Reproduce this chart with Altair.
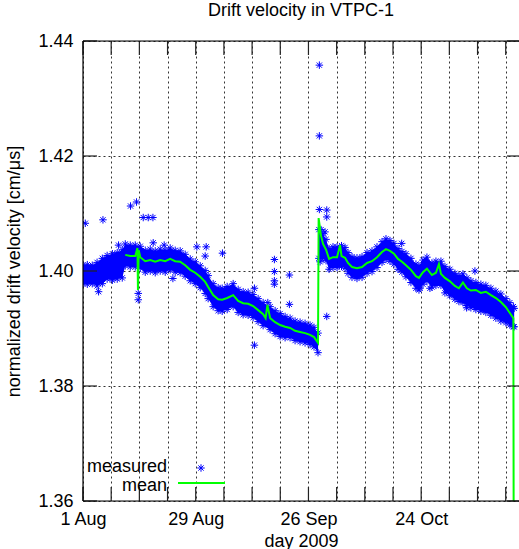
import altair as alt
import pandas as pd

# ---------------- data ----------------
# days counted from 1 Aug 2009
band_day = [0.00, 1.07, 2.30, 3.50, 4.80, 6.00, 7.30, 8.50, 9.75, 10.50, 11.74, 12.98, 14.22,
            15.46, 16.70, 17.94, 19.18, 20.42, 21.66, 22.90, 24.14, 25.38, 26.63, 27.87, 29.11,
            30.35, 31.09, 32.33, 33.57, 34.57, 35.81, 37.30, 38.54, 39.78, 41.02, 42.26, 43.50,
            44.74, 46.48, 47.72, 48.96, 50.20, 51.44, 52.68, 53.92, 55.16, 56.40, 57.39, 58.38,
            58.60, 59.13, 59.63, 60.37, 61.12, 62.10, 63.10, 64.22, 65.09, 65.83, 66.82, 68.06,
            69.31, 70.55, 71.79, 73.03, 74.27, 75.26, 76.25, 77.25, 78.24, 79.23, 80.22, 81.46,
            82.70, 83.45, 84.44, 85.43, 86.67, 87.67, 88.91, 89.90, 91.14, 92.38, 93.37, 94.37,
            95.36, 96.35, 97.59, 98.83, 100.07, 101.32, 102.56, 103.80, 105.04, 106.03, 106.90, 107.10]
band_hi = [1.4010, 1.4011, 1.4010, 1.4015, 1.4022, 1.4027, 1.4030, 1.4032, 1.4037, 1.4047, 1.4045, 1.4045, 1.4043,
           1.4036, 1.4038, 1.4035, 1.4038, 1.4036, 1.4040, 1.4036, 1.4035, 1.4029, 1.4021, 1.4016, 1.4009,
           1.4001, 1.3992, 1.3978, 1.3971, 1.3970, 1.3973, 1.3978, 1.3968, 1.3964, 1.3963, 1.3959, 1.3952,
           1.3945, 1.3938, 1.3931, 1.3926, 1.3921, 1.3918, 1.3913, 1.3911, 1.3909, 1.3906, 1.3902, 1.3892,
           1.4072, 1.4072, 1.4065, 1.4055, 1.4039, 1.4042, 1.4042, 1.4044, 1.4041, 1.4032, 1.4025, 1.4023,
           1.4025, 1.4032, 1.4035, 1.4042, 1.4051, 1.4056, 1.4053, 1.4048, 1.4039, 1.4034, 1.4030, 1.4022,
           1.4012, 1.4009, 1.4019, 1.4024, 1.4014, 1.4017, 1.4017, 1.4008, 1.4003, 1.3996, 1.3992, 1.3995,
           1.3988, 1.3983, 1.3980, 1.3977, 1.3975, 1.3970, 1.3965, 1.3960, 1.3952, 1.3945, 1.3938, 1.3935]
band_lo = [1.3978, 1.3977, 1.3978, 1.3974, 1.3978, 1.3986, 1.3984, 1.3986, 1.3988, 1.4009, 1.4007, 1.4007, 1.4005,
           1.3998, 1.4000, 1.3997, 1.4000, 1.3998, 1.4002, 1.3998, 1.3997, 1.3991, 1.3983, 1.3978, 1.3971,
           1.3961, 1.3952, 1.3938, 1.3931, 1.3930, 1.3933, 1.3938, 1.3928, 1.3924, 1.3923, 1.3919, 1.3912,
           1.3905, 1.3898, 1.3891, 1.3886, 1.3884, 1.3884, 1.3879, 1.3877, 1.3875, 1.3872, 1.3868, 1.3858,
           1.4022, 1.4022, 1.4022, 1.4018, 1.4003, 1.4006, 1.4006, 1.4008, 1.4005, 1.3996, 1.3989, 1.3987,
           1.3989, 1.3996, 1.3999, 1.4006, 1.4015, 1.4020, 1.4017, 1.4012, 1.4003, 1.3998, 1.3990, 1.3980,
           1.3970, 1.3967, 1.3977, 1.3982, 1.3972, 1.3975, 1.3975, 1.3962, 1.3957, 1.3951, 1.3947, 1.3945,
           1.3940, 1.3936, 1.3933, 1.3930, 1.3928, 1.3923, 1.3918, 1.3913, 1.3910, 1.3906, 1.3903, 1.3903]

mean_day = [10.50, 11.74, 12.98, 13.52, 13.65, 13.85, 14.22, 15.46, 16.70, 17.94, 19.18, 20.42, 21.66,
            22.90, 24.14, 25.38, 26.63, 27.87, 29.11, 30.35, 31.09, 32.33, 33.57, 34.57, 35.81, 37.30,
            38.54, 39.78, 41.02, 42.26, 43.50, 44.74, 45.36, 45.81, 46.48, 47.72, 48.96, 50.20, 51.44,
            52.68, 53.92, 55.16, 56.40, 57.39, 58.38, 58.53, 59.13, 59.63, 60.37, 61.12, 62.10, 63.10,
            63.85, 64.22, 65.09, 65.83, 66.82, 68.06, 69.31, 70.55, 71.79, 73.03, 74.27, 75.26, 76.25,
            77.25, 78.24, 79.23, 80.22, 81.46, 82.70, 83.45, 84.44, 85.43, 86.67, 87.67, 88.41, 88.91,
            89.90, 91.14, 92.38, 93.37, 94.37, 95.36, 96.35, 97.59, 98.83, 100.07, 101.32, 102.56,
            103.80, 105.04, 106.03, 106.90, 107.10]
mean_val = [1.4028, 1.4026, 1.4026, 1.4040, 1.3967, 1.4036, 1.4024, 1.4017, 1.4019, 1.4016, 1.4019, 1.4017, 1.4021,
            1.4017, 1.4016, 1.4010, 1.4002, 1.3997, 1.3990, 1.3981, 1.3972, 1.3958, 1.3951, 1.3950, 1.3953, 1.3958,
            1.3948, 1.3944, 1.3943, 1.3939, 1.3932, 1.3925, 1.3918, 1.3941, 1.3918, 1.3911, 1.3906, 1.3903, 1.3901,
            1.3896, 1.3894, 1.3892, 1.3889, 1.3885, 1.3875, 1.4092, 1.4061, 1.4047, 1.4037, 1.4021, 1.4024, 1.4024,
            1.4045, 1.4026, 1.4023, 1.4014, 1.4007, 1.4005, 1.4007, 1.4014, 1.4017, 1.4024, 1.4033, 1.4038, 1.4035,
            1.4030, 1.4021, 1.4016, 1.4010, 1.4002, 1.3991, 1.3988, 1.3998, 1.4004, 1.3993, 1.3997, 1.4012, 1.3995,
            1.3988, 1.3982, 1.3974, 1.3970, 1.3980, 1.3970, 1.3966, 1.3967, 1.3962, 1.3964, 1.3958, 1.3953,
            1.3946, 1.3937, 1.3927, 1.3918, 1.3000]

out_day = [0.57, 4.96, 11.81, 13.30, 14.96, 16.20, 17.37, 8.83, 17.44, 20.17, 13.72, 13.72, 3.87, 22.33,
           28.29, 30.60, 30.35, 34.64, 42.58, 47.54, 47.54, 47.54, 47.54, 51.27, 51.27, 42.58, 45.91,
           58.71, 58.71, 58.71, 60.55, 60.55, 60.12, 60.55, 58.89, 79.16, 97.35, 95.29, 86.18, 83.70]
out_val = [1.4083, 1.4089, 1.4113, 1.4120, 1.4093, 1.4093, 1.4093, 1.4045, 1.4049, 1.4045, 1.3961, 1.3950, 1.3964, 1.3987,
           1.4042, 1.4042, 1.4026, 1.4031, 1.3871, 1.4020, 1.3999, 1.3983, 1.3977, 1.3993, 1.3942, 1.3970, 1.3945,
           1.4107, 1.4358, 1.4235, 1.4106, 1.4094, 1.4068, 1.3921, 1.4016, 1.4048, 1.4000, 1.3936, 1.3970, 1.3970]

week_ticks = [0, 7, 14, 21, 28, 35, 42, 49, 56, 63, 70, 77, 84, 91, 98, 105]
label_days = [0, 28, 56, 84]
label_text = ["1 Aug", "29 Aug", "26 Sep", "24 Oct"]
y_ticks = [1.36, 1.38, 1.40, 1.42, 1.44]
legend_labels = ["measured", "mean"]

# ---------------- styling ----------------
W, H = 436, 460
BLUE = "#0000ff"
GREEN = "#00ff00"
FONT = "Liberation Sans"
STAR = "M-1,0L1,0M0,-1L0,1M-0.7,-0.7L0.7,0.7M-0.7,0.7L0.7,-0.7"
XDOM = [0, 108.3]
YDOM = [1.36, 1.44]

label_expr = " : ".join(
    f"datum.value == {d} ? '{t}'" for d, t in zip(label_days, label_text)
) + " : ''"

xs = alt.Scale(domain=XDOM, nice=False, zero=False)
ys = alt.Scale(domain=YDOM, nice=False, zero=False)

band_df = pd.DataFrame({"day": band_day, "hi": band_hi, "lo": band_lo})
band_pts = pd.concat([
    pd.DataFrame({"day": band_day, "v": band_hi}),
    pd.DataFrame({"day": band_day, "v": band_lo}),
])
mean_df = pd.DataFrame({"day": mean_day, "v": mean_val})
out_df = pd.DataFrame({"day": out_day, "v": out_val})
wk_df = pd.DataFrame({"day": week_ticks})
yt_df = pd.DataFrame({"v": y_ticks})
one = pd.DataFrame({"a": [0]})

x_axis = alt.Axis(values=week_ticks, labelExpr=label_expr, grid=True, gridDash=[2, 3],
                  gridColor="#333333", gridWidth=1, ticks=False, domain=False,
                  labelFontSize=18, labelFont=FONT, labelColor="black", labelPadding=9,
                  labelFlush=False, labelOverlap=False, title="day 2009",
                  titleFontSize=18, titleFont=FONT, titleFontWeight="normal",
                  titleColor="black", titlePadding=4)
y_axis = alt.Axis(values=y_ticks, format=".2f", grid=True, gridDash=[2, 3],
                  gridColor="#333333", gridWidth=1, ticks=False, domain=False,
                  labelFontSize=18, labelFont=FONT, labelColor="black", labelPadding=10,
                  title="normalized drift velocity [cm/μs]", titleFontSize=18, titleFont=FONT,
                  titleFontWeight="normal", titleColor="black", titlePadding=14)

X = lambda f="day:Q": alt.X(f, scale=xs, axis=x_axis)
Y = lambda f="v:Q": alt.Y(f, scale=ys, axis=y_axis)

band = alt.Chart(band_df).mark_area(color=BLUE, clip=True, opacity=1).encode(
    x=X(), y=Y("hi:Q"), y2="lo:Q")
star_kw = dict(shape=STAR, filled=False, size=56, strokeWidth=1, color=BLUE, opacity=1, clip=True)
band_stars = alt.Chart(band_pts).mark_point(**star_kw).encode(x=X(), y=Y())
out_stars = alt.Chart(out_df).mark_point(**star_kw).encode(x=X(), y=Y())
mean_line = alt.Chart(mean_df).mark_line(color=GREEN, strokeWidth=2, clip=True).encode(x=X(), y=Y())

TICKC = "#222222"
bt = alt.Chart(wk_df).mark_rule(color=TICKC, strokeWidth=1.2).encode(
    x=X(), y=alt.value(H), y2=alt.value(H - 14))
tt = alt.Chart(wk_df).mark_rule(color=TICKC, strokeWidth=1.2).encode(
    x=X(), y=alt.value(0), y2=alt.value(14))
lt = alt.Chart(yt_df).mark_rule(color=TICKC, strokeWidth=1.2).encode(
    y=Y(), x=alt.value(0), x2=alt.value(14))
rt = alt.Chart(yt_df).mark_rule(color=TICKC, strokeWidth=1.2).encode(
    y=Y(), x=alt.value(W - 12), x2=alt.value(W))

border_l = alt.Chart(one).mark_rule(color="black", strokeWidth=1.2).encode(
    x=alt.value(0), y=alt.value(0), y2=alt.value(H))
border_b = alt.Chart(one).mark_rule(color="black", strokeWidth=1.2).encode(
    y=alt.value(H), x=alt.value(0), x2=alt.value(W))
border_t = alt.Chart(one).mark_rule(color="black", strokeWidth=1.2).encode(
    y=alt.value(0), x=alt.value(0), x2=alt.value(W))

leg_text1 = alt.Chart(pd.DataFrame({"t": [legend_labels[0]]})).mark_text(
    align="right", baseline="alphabetic", fontSize=18, font=FONT, color="black").encode(
    text="t:N", x=alt.value(84), y=alt.value(431))
leg_text2 = alt.Chart(pd.DataFrame({"t": [legend_labels[1]]})).mark_text(
    align="right", baseline="alphabetic", fontSize=18, font=FONT, color="black").encode(
    text="t:N", x=alt.value(84), y=alt.value(450))
leg_star = alt.Chart(one).mark_point(shape=STAR, filled=False, size=56, strokeWidth=1,
                                     color=BLUE, opacity=1).encode(
    x=alt.value(118), y=alt.value(427))
leg_line = alt.Chart(one).mark_rule(color=GREEN, strokeWidth=2).encode(
    x=alt.value(95), x2=alt.value(142), y=alt.value(442))

chart = alt.layer(
    band, band_stars, out_stars, mean_line,
    bt, tt, lt, rt, border_l, border_b, border_t,
    leg_text1, leg_text2, leg_star, leg_line,
).properties(
    width=W, height=H,
    title=alt.TitleParams("Drift velocity in VTPC-1", fontSize=18, font=FONT,
                          fontWeight="normal", color="black", anchor="middle", offset=12),
    autosize=alt.AutoSizeParams(type="none"),
    padding={"left": 83, "top": 41, "right": 0, "bottom": 48},
).configure_view(stroke=None).configure(background="white")

chart.save("out.html", embed_options={"renderer": "svg", "actions": False})
